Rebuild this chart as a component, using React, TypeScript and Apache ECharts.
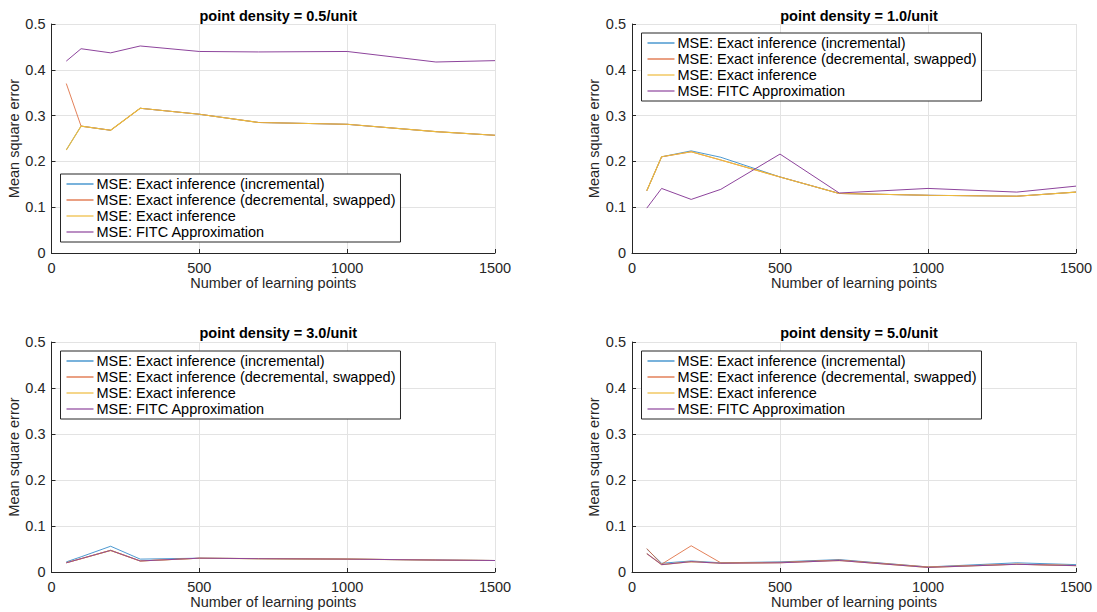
import React, { useEffect, useRef } from "react";
import * as echarts from "echarts";

const xPoints = [50, 100, 200, 300, 500, 700, 1000, 1300, 1500];
const seriesNames = [
  "MSE: Exact inference (incremental)",
  "MSE: Exact inference (decremental, swapped)",
  "MSE: Exact inference",
  "MSE: FITC Approximation",
];
const titles = [
  "point density = 0.5/unit",
  "point density = 1.0/unit",
  "point density = 3.0/unit",
  "point density = 5.0/unit",
];
const xTicks = [0, 500, 1000, 1500];
const yTicks = [0, 0.1, 0.2, 0.3, 0.4, 0.5];

// density 0.5
const d05Incremental = [0.225, 0.277, 0.268, 0.316, 0.303, 0.285, 0.281, 0.265, 0.257];
const d05Decremental = [0.37, 0.277, 0.268, 0.316, 0.303, 0.285, 0.281, 0.265, 0.257];
const d05Exact = [0.225, 0.277, 0.268, 0.316, 0.303, 0.285, 0.281, 0.265, 0.257];
const d05Fitc = [0.419, 0.446, 0.437, 0.452, 0.44, 0.439, 0.44, 0.417, 0.42];

// density 1.0
const d10Incremental = [0.136, 0.21, 0.223, 0.209, 0.166, 0.13, 0.126, 0.124, 0.133];
const d10Decremental = [0.136, 0.21, 0.221, 0.203, 0.166, 0.13, 0.126, 0.124, 0.133];
const d10Exact = [0.136, 0.21, 0.221, 0.203, 0.166, 0.13, 0.126, 0.124, 0.133];
const d10Fitc = [0.098, 0.141, 0.117, 0.139, 0.216, 0.131, 0.141, 0.133, 0.146];

// density 3.0
const d30Incremental = [0.022, 0.033, 0.056, 0.028, 0.03, 0.029, 0.028, 0.026, 0.025];
const d30Decremental = [0.02, 0.029, 0.047, 0.024, 0.03, 0.029, 0.028, 0.026, 0.025];
const d30Exact = [0.02, 0.029, 0.047, 0.024, 0.03, 0.029, 0.028, 0.026, 0.025];
const d30Fitc = [0.02, 0.029, 0.047, 0.024, 0.03, 0.029, 0.028, 0.026, 0.025];

// density 5.0
const d50Incremental = [0.05, 0.019, 0.024, 0.02, 0.022, 0.027, 0.011, 0.02, 0.016];
const d50Decremental = [0.051, 0.017, 0.057, 0.02, 0.021, 0.026, 0.011, 0.017, 0.014];
const d50Exact = [0.04, 0.016, 0.0225, 0.019, 0.02, 0.025, 0.01, 0.0167, 0.0138];
const d50Fitc = [0.04, 0.016, 0.0225, 0.019, 0.02, 0.025, 0.01, 0.0167, 0.0138];

const panels = [
  [d05Incremental, d05Decremental, d05Exact, d05Fitc],
  [d10Incremental, d10Decremental, d10Exact, d10Fitc],
  [d30Incremental, d30Decremental, d30Exact, d30Fitc],
  [d50Incremental, d50Decremental, d50Exact, d50Fitc],
];

const colors = ["#1f7fc4", "#dc6130", "#eebb3c", "#8d449c"];
const widths = [0.8, 0.8, 1.1, 1];
const FONT = "'Liberation Sans', Arial, Helvetica, sans-serif";
const TXT = "#262626";

const gridBoxes = [
  { left: 51.5, top: 24, width: 443.5, height: 229 },
  { left: 632, top: 24, width: 444, height: 229 },
  { left: 51.5, top: 342, width: 443.5, height: 230 },
  { left: 632, top: 342, width: 444, height: 230 },
];
const legendPos = [
  { left: 60.5, top: 174 },
  { left: 641.5, top: 33 },
  { left: 60.5, top: 351 },
  { left: 641.5, top: 351 },
];

export default function App() {
  const ref = useRef<HTMLDivElement>(null);
  useEffect(() => {
    if (!ref.current) return;
    const chart = echarts.init(ref.current, undefined, { renderer: "svg" });
    const grid = gridBoxes.map((g) => ({ ...g, containLabel: false }));
    const xAxis = gridBoxes.map((_, i) => ({
      type: "value",
      gridIndex: i,
      min: xTicks[0],
      max: xTicks[xTicks.length - 1],
      interval: xTicks[1] - xTicks[0],
      name: "Number of learning points",
      nameLocation: "middle",
      nameGap: 19,
      nameTextStyle: { fontFamily: FONT, fontSize: 14.5, color: TXT },
      axisLine: { show: true, lineStyle: { color: TXT, width: 1 } },
      axisTick: { show: true, inside: true, length: 4, lineStyle: { color: TXT } },
      axisLabel: {
        fontFamily: FONT,
        fontSize: 14.5,
        color: TXT,
        margin: 7,
        formatter: (v: number) => String(v),
      },
      splitLine: { show: true, lineStyle: { color: "#e3e3e3", width: 1 } },
    }));
    const yAxis = gridBoxes.map((_, i) => ({
      type: "value",
      gridIndex: i,
      min: yTicks[0],
      max: yTicks[yTicks.length - 1],
      interval: yTicks[1] - yTicks[0],
      name: "Mean square error",
      nameLocation: "middle",
      nameGap: 30,
      nameTextStyle: { fontFamily: FONT, fontSize: 14.5, color: TXT },
      axisLine: { show: true, lineStyle: { color: TXT, width: 1 } },
      axisTick: { show: true, inside: true, length: 4, lineStyle: { color: TXT } },
      axisLabel: {
        fontFamily: FONT,
        fontSize: 14.5,
        color: TXT,
        margin: 6,
        formatter: (v: number) => (v === 0 ? "0" : String(Math.round(v * 10) / 10)),
      },
      splitLine: { show: true, lineStyle: { color: "#e3e3e3", width: 1 } },
    }));
    const title = titles.map((t, i) => ({
      text: t,
      left: gridBoxes[i].left + gridBoxes[i].width / 2,
      top: i < 2 ? 3 : 320,
      textAlign: "center",
      textStyle: { fontFamily: FONT, fontSize: 14.5, fontWeight: "bold", color: "#000" },
    }));
    const legend = legendPos.map((p) => ({
      data: seriesNames,
      orient: "vertical",
      left: p.left,
      top: p.top,
      icon: "rect",
      itemWidth: 27,
      itemHeight: 1.2,
      itemGap: 0,
      padding: [2, 5, 2, 6],
      backgroundColor: "#fff",
      borderColor: TXT,
      borderWidth: 1,
      selectedMode: false,
      textStyle: { fontFamily: FONT, fontSize: 14.5, color: "#000", lineHeight: 16, padding: [0, 0, 0, -2] },
    }));
    const series: any[] = [];
    panels.forEach((vals, gi) => {
      vals.forEach((arr, si) => {
        series.push({
          type: "line",
          name: seriesNames[si],
          xAxisIndex: gi,
          yAxisIndex: gi,
          data: xPoints.map((x, k) => [x, arr[k]]),
          showSymbol: false,
          symbol: "none",
          lineStyle: { width: widths[si], color: colors[si] },
          itemStyle: { color: colors[si] },
          z: 2 + si,
        });
      });
    });
    chart.setOption({
      animation: false,
      backgroundColor: "#fff",
      title,
      legend,
      grid,
      xAxis,
      yAxis,
      series,
    });
    return () => chart.dispose();
  }, []);
  return (
    <div
      ref={ref}
      style={{ position: "fixed", left: 0, top: 0, width: 1097, height: 612 }}
    />
  );
}
